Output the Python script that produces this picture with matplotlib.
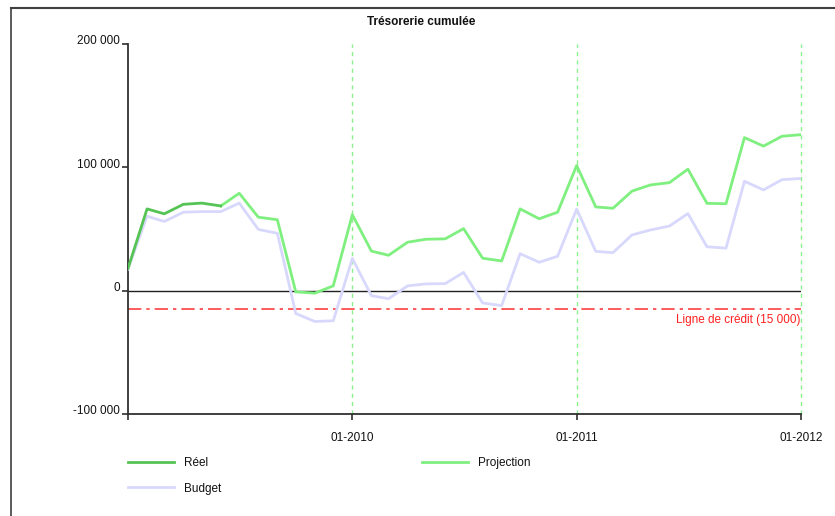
import matplotlib
matplotlib.use("Agg")
import matplotlib.pyplot as plt
import matplotlib.transforms as mtransforms
from matplotlib.lines import Line2D
import pandas as pd

plt.rcParams['font.family'] = ['Liberation Sans', 'DejaVu Sans']

title = "Trésorerie cumulée"
months = pd.date_range("2009-01-01", "2012-01-01", freq="MS")

reel_values = [18000, 66300, 62300, 70000, 71000, 68700]
projection_values = [68700, 79000, 59600, 57500, -1000, -2000, 3900, 61600,
                     32100, 28700, 39300, 41700, 42000, 50300, 26300, 24100,
                     66300, 58300, 63600, 101500, 67900, 66800, 80700, 85700,
                     87600, 98500, 70800, 70500, 124100, 117200, 125200, 126500]
budget_values = [17500, 60400, 56100, 63600, 64100, 64100, 71000, 49700, 46500,
                 -18500, -25000, -24400, 26200, -4100, -6500, 3900, 5500, 5700,
                 14800, -10000, -12100, 30000, 23000, 27900, 66200, 31900, 30800,
                 45200, 49200, 52400, 62500, 35600, 34500, 88700, 81700, 90000, 91000]
credit_line = -15000
credit_label = "Ligne de crédit (15 000)"
ytick_values = [-100000, 0, 100000, 200000]
ytick_labels = ["-100 000", "0", "100 000", "200 000"]
xtick_dates = ["2009-01-01", "2010-01-01", "2011-01-01", "2012-01-01"]
xtick_labels = ["", "01-2010", "01-2011", "01-2012"]
legend_labels = ["Réel", "Projection", "Budget"]

c_reel = "#55c455"
c_proj = "#7ff07f"
c_budget = "#d8d8fc"
c_grid = "#8cf08c"

fig = plt.figure(figsize=(8.35, 5.16), dpi=100)
W, H = 835, 516
ax = fig.add_axes([128 / W, 1 - 414 / H, (801 - 128) / W, (414 - 44) / H])

# figure frame (top and left)
fig.add_artist(Line2D([11 / W, 1], [1 - 8 / H, 1 - 8 / H], transform=fig.transFigure,
                      color="#404040", lw=1.5))
fig.add_artist(Line2D([11 / W, 11 / W], [0, 1 - 8 / H], transform=fig.transFigure,
                      color="#404040", lw=1.2))

xd = pd.to_datetime(xtick_dates)
for d in xd[1:]:
    ax.axvline(d, color=c_grid, lw=1, ls=(0, (3, 3)), zorder=1, clip_on=False)

ax.axhline(0, color="#202020", lw=1, zorder=2)
ax.axhline(credit_line, color="#ff4040", lw=1.2, ls=(0, (8, 3, 2, 3)), zorder=2)

ln_b, = ax.plot(months, budget_values, color=c_budget, lw=2, zorder=3)
ln_p, = ax.plot(months[5:], projection_values, color=c_proj, lw=2, zorder=4)
ln_r, = ax.plot(months[:6], reel_values, color=c_reel, lw=2, zorder=5)

ax.text(xd[-1], credit_line, credit_label, color="#ff2020", fontsize=8.5,
        ha="right", va="top",
        transform=ax.transData + mtransforms.ScaledTranslation(0, -3.5 / 72, fig.dpi_scale_trans))

ax.set_xlim(xd[0], xd[-1])
ax.set_ylim(-100000, 200000)
ax.set_yticks(ytick_values)
ax.set_yticklabels(ytick_labels)
ax.set_xticks(xd)
ax.set_xticklabels(xtick_labels)

for s in ["top", "right"]:
    ax.spines[s].set_visible(False)
for s in ["left", "bottom"]:
    ax.spines[s].set_color("#303030")
    ax.spines[s].set_linewidth(1.3)

ax.tick_params(axis="both", direction="out", length=4, width=1.2, color="#303030",
               labelsize=8.5, labelcolor="#111111")
ax.tick_params(axis="x", pad=9)
ax.tick_params(axis="y", pad=2)
offset = mtransforms.ScaledTranslation(0, 3 / 72, fig.dpi_scale_trans)
for lab in ax.get_yticklabels():
    lab.set_transform(lab.get_transform() + offset)

fig.text(421 / W, 1 - 22 / H, title, ha="center", va="center", fontsize=8.5,
         fontweight="bold", color="#111111")

leg = ax.legend([ln_r, ln_b, ln_p], [legend_labels[0], legend_labels[2], legend_labels[1]],
                ncol=2, loc="upper left", bbox_to_anchor=(128 / W, 1 - 457 / H),
                bbox_transform=fig.transFigure, frameon=False, fontsize=8.5,
                handlelength=3.9, handletextpad=0.85, columnspacing=17.0,
                labelspacing=1.15, borderaxespad=0, borderpad=0)
for t in leg.get_texts():
    t.set_color("#111111")

fig.savefig("out.png", dpi=100)
